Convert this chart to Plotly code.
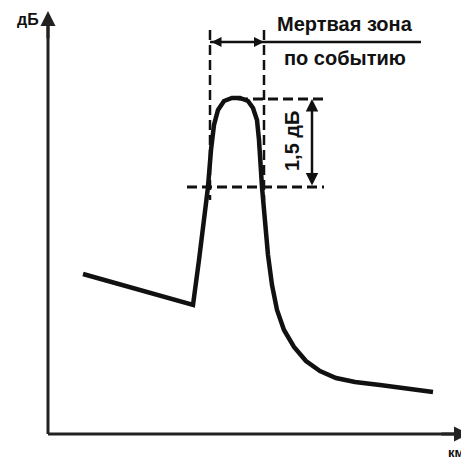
import plotly.graph_objects as go

H = 459
# Reflectogram curve (schematic units, x = distance, y = level)
curve_x = [83, 193, 199, 204, 208, 211, 214, 218, 224, 232, 240, 248, 253, 257, 259, 262,
           265, 268, 272, 277, 284, 294, 306, 320, 336, 355, 380, 405, 433]
curve_py = [274, 305, 260, 220, 187, 150, 125, 110, 101, 98, 98, 101, 108, 120, 140, 187,
            220, 255, 285, 310, 330, 347, 361, 371, 378, 382, 385, 388, 392]
curve_y = [H - v for v in curve_py]

# Event markers
dz_left, dz_right = 210, 264          # dead zone boundaries
peak_level = H - 99                   # top reference level
lower_level = H - 187                 # level 1.5 dB below peak
axis_x0, axis_y0 = 48, H - 434

labels = {"y": "дБ", "x": "км", "dz1": "Мертвая зона", "dz2": "по событию", "db": "1,5 дБ"}

fig = go.Figure()
fig.add_trace(go.Scatter(x=curve_x, y=curve_y, mode="lines",
                         line=dict(color="#111111", width=4.5), hoverinfo="skip"))

shapes = []
ax_col = "#222222"
dash = "10px,5px"
# axes
shapes.append(dict(type="line", x0=axis_x0, y0=axis_y0, x1=axis_x0, y1=H - 20,
                   line=dict(color=ax_col, width=3)))
shapes.append(dict(type="line", x0=axis_x0, y0=axis_y0, x1=458, y1=axis_y0,
                   line=dict(color=ax_col, width=3)))
# vertical dashed lines of dead zone
for xv in (dz_left, dz_right):
    shapes.append(dict(type="line", x0=xv, y0=H - 30, x1=xv, y1=H - 200,
                       line=dict(color="#111111", width=2.5, dash=dash)))
# horizontal dashed lines
shapes.append(dict(type="line", x0=238, y0=peak_level, x1=324, y1=peak_level,
                   line=dict(color="#111111", width=3, dash=dash)))
shapes.append(dict(type="line", x0=187, y0=lower_level, x1=324, y1=lower_level,
                   line=dict(color="#111111", width=3, dash=dash)))
# dead zone label line
shapes.append(dict(type="line", x0=dz_left, y0=H - 42, x1=421, y1=H - 42,
                   line=dict(color="#111111", width=2.5)))

annotations = []
# axis arrows
annotations.append(dict(x=axis_x0, y=H - 11, ax=axis_x0, ay=H - 40, xref="x", yref="y",
                        axref="x", ayref="y", text="", showarrow=True, arrowhead=2,
                        arrowsize=1, arrowwidth=3, arrowcolor=ax_col))
annotations.append(dict(x=469, y=axis_y0, ax=440, ay=axis_y0, xref="x", yref="y",
                        axref="x", ayref="y", text="", showarrow=True, arrowhead=2,
                        arrowsize=1, arrowwidth=3, arrowcolor=ax_col))
# dead zone double arrow
annotations.append(dict(x=dz_right, y=H - 42, ax=dz_left, ay=H - 42, xref="x", yref="y",
                        axref="x", ayref="y", text="", showarrow=True, arrowhead=2,
                        arrowside="end+start", arrowsize=1, arrowwidth=2, arrowcolor="#111111"))
# 1.5 dB double arrow
annotations.append(dict(x=312, y=peak_level, ax=312, ay=lower_level, xref="x", yref="y",
                        axref="x", ayref="y", text="", showarrow=True, arrowhead=2,
                        arrowside="end+start", arrowsize=1, arrowwidth=2.5, arrowcolor="#111111"))

fam = "Liberation Sans, Arial, sans-serif"
col = "#111111"
annotations.append(dict(x=28, y=H - 19, text="<b>" + labels["y"] + "</b>", showarrow=False,
                        xref="x", yref="y", font=dict(family=fam, size=16, color=col)))
annotations.append(dict(x=456, y=H - 452, text="<b>" + labels["x"] + "</b>", showarrow=False,
                        xref="x", yref="y", font=dict(family=fam, size=13, color=col)))
annotations.append(dict(x=345, y=H - 24, text="<b>" + labels["dz1"] + "</b>", showarrow=False,
                        xref="x", yref="y", font=dict(family=fam, size=20, color=col)))
annotations.append(dict(x=345, y=H - 58, text="<b>" + labels["dz2"] + "</b>", showarrow=False,
                        xref="x", yref="y", font=dict(family=fam, size=20, color=col)))
annotations.append(dict(x=292, y=H - 141, text="<b>" + labels["db"] + "</b>", textangle=-90,
                        showarrow=False, xref="x", yref="y",
                        font=dict(family=fam, size=20, color=col)))

fig.update_layout(
    width=461, height=451,
    margin=dict(l=0, r=0, t=0, b=0),
    paper_bgcolor="white", plot_bgcolor="white",
    showlegend=False,
    xaxis=dict(range=[8, 469], visible=False, fixedrange=True),
    yaxis=dict(range=[0, 451], visible=False, fixedrange=True),
    shapes=shapes, annotations=annotations,
)
fig.write_html("out.html")
